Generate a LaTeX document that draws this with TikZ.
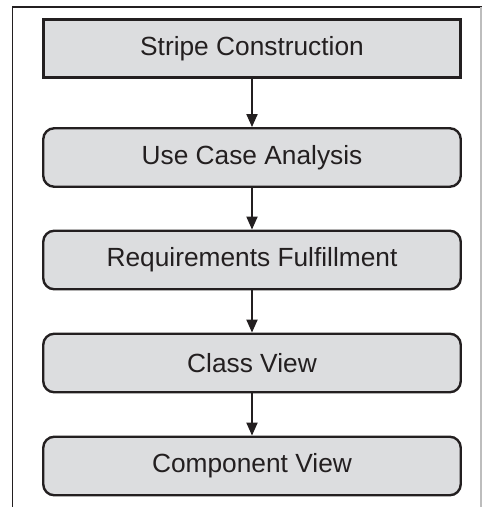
\documentclass[tikz,border=0pt]{standalone}
\usepackage{fontspec}
\setmainfont{Liberation Sans}
\usetikzlibrary{arrows.meta}
\definecolor{boxfill}{HTML}{DCDDDF}
\definecolor{ink}{HTML}{231F20}
\definecolor{edgegray}{HTML}{BDBDBD}
\begin{document}
\begin{tikzpicture}[x=1pt,y=-1pt,
  stagebox/.style={draw=ink, fill=boxfill, line width=2.4pt, rounded corners=11pt,
    minimum width=417.5pt, minimum height=58.5pt, inner sep=0pt,
    font=\fontsize{26.3}{30}\selectfont, text=ink},
  firstbox/.style={stagebox, sharp corners, line width=3pt},
  flow/.style={draw=ink, line width=2pt, -{Triangle[length=13pt,width=11pt]}}]
\useasboundingbox (0,0) rectangle (483,507);
\coordinate (fl0) at (12.5,507);
\coordinate (fl1) at (12.5,7);
\coordinate (fr1) at (481,7);
\coordinate (fr0) at (481,507);
\draw[ink, line width=1.4pt] (fl0) -- (fl1) -- ([xshift=0.7pt]fr1);
\draw[edgegray, line width=1.2pt] (fr1) -- (fr0);
\node[firstbox] (s1) at (252,48.5) {Stripe Construction};
\node[stagebox] (s2) at (252,157.5) {Use Case Analysis};
\node[stagebox] (s3) at (252,260) {Requirements Fulfillment};
\node[stagebox] (s4) at (252,363) {Class View};
\node[stagebox] (s5) at (252,466) {Component View};
\draw[flow] (s1) -- (s2);
\draw[flow] (s2) -- (s3);
\draw[flow] (s3) -- (s4);
\draw[flow] (s4) -- (s5);
\end{tikzpicture}
\end{document}
